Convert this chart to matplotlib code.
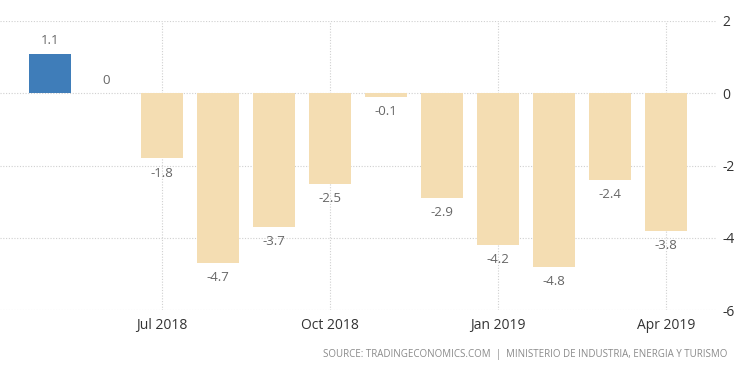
import matplotlib
matplotlib.use("Agg")
import matplotlib.pyplot as plt

months = ["May 2018", "Jun 2018", "Jul 2018", "Aug 2018", "Sep 2018", "Oct 2018",
          "Nov 2018", "Dec 2018", "Jan 2019", "Feb 2019", "Mar 2019", "Apr 2019"]
values = [1.1, 0, -1.8, -4.7, -3.7, -2.5, -0.1, -2.9, -4.2, -4.8, -2.4, -3.8]
labels = ["1.1", "0", "-1.8", "-4.7", "-3.7", "-2.5", "-0.1", "-2.9", "-4.2", "-4.8", "-2.4", "-3.8"]
tick_labels = ["Jul 2018", "Oct 2018", "Jan 2019", "Apr 2019"]
y_ticks = [2, 0, -2, -4, -6]

plt.rcParams['font.family'] = ['Open Sans', 'DejaVu Sans']

fig = plt.figure(figsize=(7.5, 3.73), dpi=100)
ax = fig.add_axes([0.0, 1 - 310 / 373, 717 / 750, (310 - 21) / 373])

x = list(range(len(values)))
colors = ["#3F7DB9" if v > 0 else "#F4DDB2" for v in values]
ax.bar(x, values, width=0.75, color=colors, zorder=2)

for xi, v, lab in zip(x, values, labels):
    if v >= 0:
        ax.annotate(lab, (xi, v), xytext=(0, 4.5), textcoords="offset points",
                    ha="center", va="bottom", fontsize=9.5, color="#666666")
    else:
        ax.annotate(lab, (xi, v), xytext=(0, -6), textcoords="offset points",
                    ha="center", va="top", fontsize=9.5, color="#666666")

ax.set_xlim(-0.89, 11.91)
ax.set_ylim(-6, 2)
tick_pos = [months.index(m) for m in tick_labels]
ax.set_xticks(tick_pos)
ax.set_xticklabels(tick_labels, fontsize=10, color="#333333")
ax.yaxis.tick_right()
ax.set_yticks(y_ticks)
ax.set_yticklabels([str(t) for t in y_ticks], fontsize=10, color="#333333")
ax.tick_params(axis="both", length=0, pad=6)
ax.tick_params(axis="y", pad=4)
for s in ax.spines.values():
    s.set_visible(False)
ax.grid(True, linestyle=(0, (1, 1.5)), color="#d0d0d0", linewidth=0.8, zorder=0)
ax.set_axisbelow(True)

fig.text(727 / 750, 1 - 355 / 373,
         "SOURCE: TRADINGECONOMICS.COM  |  MINISTERIO DE INDUSTRIA, ENERGIA Y TURISMO",
         ha="right", va="center", fontsize=7, color="#8a8a8a")

fig.savefig("out.png", dpi=100)
